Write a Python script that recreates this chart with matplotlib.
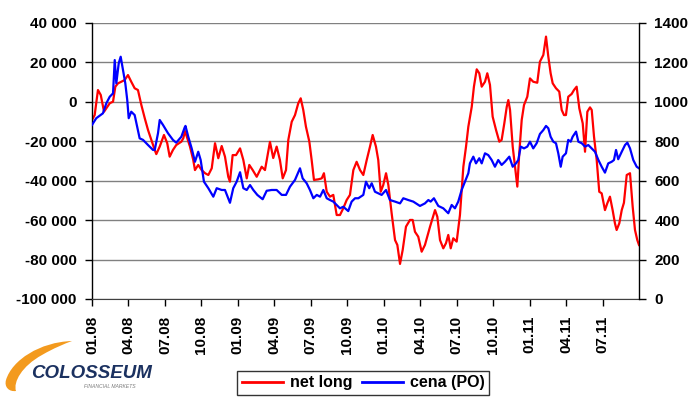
import matplotlib
matplotlib.use("Agg")
import matplotlib.pyplot as plt
from matplotlib.path import Path
from matplotlib.patches import PathPatch

# ---- data -------------------------------------------------------------
tick_labels = ["01.08", "04.08", "07.08", "10.08", "01.09", "04.09", "07.09",
               "10.09", "01.10", "04.10", "07.10", "10.10", "01.11", "04.11", "07.11"]
tick_months = [0, 3, 6, 9, 12, 15, 18, 21, 24, 27, 30, 33, 36, 39, 42]

# months since 01.2008 for net long series
net_long_m = [0.00, 0.22, 0.49, 0.72, 0.99, 1.18, 1.46, 1.73, 1.92, 2.14, 2.41, 2.69,
              2.96, 3.23, 3.51, 3.78, 4.06, 4.34, 4.61, 4.88, 5.16, 5.29, 5.57, 5.92,
              6.19, 6.39, 6.66, 6.93, 7.35, 7.51, 7.65, 8.06, 8.33, 8.47, 8.74, 9.02,
              9.30, 9.57, 9.85, 10.12, 10.39, 10.67, 10.94, 11.21, 11.35, 11.57, 11.85,
              12.18, 12.45, 12.73, 12.94, 13.22, 13.55, 13.96, 14.23, 14.64, 14.91,
              15.19, 15.46, 15.69, 15.96, 16.15, 16.43, 16.70, 16.97, 17.17, 17.38,
              17.60, 17.88, 18.07, 18.26, 18.62, 18.90, 19.08, 19.31, 19.58, 19.85,
              20.13, 20.40, 20.67, 20.95, 21.22, 21.50, 21.77, 22.05, 22.32, 22.60,
              22.87, 23.09, 23.36, 23.55, 23.75, 23.96, 24.19, 24.38, 24.65, 24.93,
              25.12, 25.34, 25.56, 25.83, 26.16, 26.38, 26.57, 26.84, 27.12, 27.39,
              27.81, 28.22, 28.41, 28.63, 28.90, 29.12, 29.31, 29.51, 29.72, 30.00,
              30.27, 30.55, 30.77, 30.96, 31.24, 31.42, 31.65, 31.86, 32.06, 32.33,
              32.52, 32.74, 32.96, 33.24, 33.51, 33.70, 33.92, 34.12, 34.25, 34.39,
              34.61, 34.80, 34.99, 35.15, 35.35, 35.54, 35.81, 36.03, 36.30, 36.63,
              36.85, 37.13, 37.35, 37.54, 37.73, 37.90, 38.17, 38.44, 38.64, 38.83,
              38.99, 39.18, 39.46, 39.65, 39.87, 40.09, 40.37, 40.56, 40.75, 40.97,
              41.11, 41.30, 41.52, 41.73, 41.93, 42.20, 42.39, 42.61, 42.83, 43.02,
              43.16, 43.38, 43.58, 43.76, 43.99, 44.26, 44.48, 44.67, 44.86, 45.00]
net_long = [-9200, -6700, 6000, 3500, -5000, -3300, -700, 100, 7700, 9400, 10200, 11100,
            13600, 10200, 6900, 6000, -1600, -8300, -14300, -19300, -24400, -26500,
            -22700, -16800, -21000, -27800, -24400, -21900, -20200, -18500, -14800,
            -22700, -29500, -34600, -32000, -34600, -36200, -37100, -33700, -21000,
            -28600, -22400, -27800, -38000, -40500, -27000, -27000, -23600, -29500,
            -38800, -32000, -34600, -38000, -32900, -34600, -20300, -28500, -22700,
            -29500, -38800, -34600, -19300, -10100, -6700, -700, 1800, -4100, -12600,
            -20200, -29500, -39600, -39300, -38800, -36200, -45600, -48100, -47200,
            -57400, -57400, -54000, -49800, -47200, -34600, -30400, -34600, -37100,
            -29500, -22700, -16800, -22700, -29500, -45600, -42200, -36200, -42200,
            -56500, -70100, -72600, -82200, -75100, -63300, -59900, -59900, -65900,
            -68400, -76000, -72600, -63300, -54900, -58300, -70100, -74300, -71700,
            -67500, -74300, -69200, -70900, -57400, -32900, -22700, -12600, -2500,
            7700, 16500, 14500, 7700, 10200, 14500, 8600, -7500, -14300, -20200,
            -19300, -10900, -2500, 900, -4100, -22700, -32900, -43000, -26100, -9200,
            -1600, 2600, 11900, 10200, 9700, 20400, 23800, 33100, 22900, 14500, 9400,
            6900, 5200, -4100, -6700, -6700, 2600, 4000, 6000, 7700, -3300, -10900,
            -25300, -5000, -2800, -4100, -17700, -29500, -45600, -46400, -54900,
            -51500, -48100, -54900, -61600, -65000, -61600, -54900, -51200, -37100,
            -36200, -53200, -65000, -70100, -72600]

# months since 01.2008 for price series
cena_m = [0.00, 0.35, 0.90, 1.18, 1.46, 1.73, 1.87, 2.00, 2.20, 2.36, 2.55, 2.74, 2.90,
          3.02, 3.23, 3.51, 3.78, 3.92, 4.20, 4.61, 5.02, 5.16, 5.43, 5.57, 5.84, 6.25,
          6.66, 6.93, 7.35, 7.63, 7.69, 7.92, 8.20, 8.47, 8.74, 8.94, 9.21, 9.57, 9.98,
          10.26, 10.67, 10.94, 11.35, 11.62, 11.90, 12.18, 12.45, 12.73, 13.00, 13.27,
          13.60, 14.04, 14.37, 14.78, 15.19, 15.61, 15.96, 16.29, 16.70, 17.11, 17.33,
          17.66, 17.93, 18.21, 18.49, 18.76, 19.03, 19.31, 19.58, 19.85, 20.13, 20.40,
          20.67, 21.08, 21.36, 21.64, 21.91, 22.32, 22.54, 22.81, 23.01, 23.28, 23.55,
          23.83, 24.19, 24.51, 24.93, 25.34, 25.61, 26.02, 26.43, 26.98, 27.39, 27.67,
          27.86, 28.13, 28.49, 28.90, 29.31, 29.59, 29.86, 30.13, 30.41, 30.68, 30.96,
          31.09, 31.37, 31.59, 31.86, 32.06, 32.33, 32.60, 32.88, 33.15, 33.42, 33.70,
          33.97, 34.33, 34.61, 34.88, 35.07, 35.27, 35.54, 35.81, 36.03, 36.30, 36.58,
          36.85, 37.13, 37.35, 37.54, 37.73, 37.95, 38.17, 38.36, 38.56, 38.72, 38.99,
          39.18, 39.38, 39.54, 39.82, 40.01, 40.29, 40.56, 40.83, 41.11, 41.38, 41.66,
          41.93, 42.20, 42.47, 42.75, 42.94, 43.11, 43.29, 43.58, 43.85, 44.04, 44.26,
          44.53, 44.81, 45.00]
cena = [883, 917, 942, 993, 1026, 1043, 1212, 1094, 1196, 1229, 1162, 1094, 1009, 917,
        950, 933, 857, 815, 807, 781, 756, 756, 841, 908, 883, 841, 807, 793, 823, 871,
        878, 823, 764, 696, 747, 705, 595, 562, 519, 562, 553, 553, 488, 562, 595, 643,
        562, 553, 578, 553, 528, 506, 549, 553, 553, 528, 528, 570, 604, 663, 612, 587,
        553, 511, 528, 519, 553, 511, 502, 494, 477, 460, 468, 446, 494, 511, 511, 528,
        595, 562, 587, 544, 536, 528, 553, 502, 494, 485, 511, 502, 494, 472, 485, 502,
        494, 511, 472, 460, 435, 477, 460, 494, 553, 595, 638, 688, 722, 688, 714, 688,
        739, 730, 705, 671, 705, 680, 696, 722, 671, 688, 705, 773, 764, 773, 798, 764,
        790, 837, 857, 878, 866, 823, 798, 790, 739, 671, 722, 739, 807, 798, 823, 849,
        798, 790, 773, 781, 764, 747, 705, 671, 641, 688, 696, 705, 756, 709, 747, 781,
        793, 764, 705, 671, 663]

left_ticks = [-100000, -80000, -60000, -40000, -20000, 0, 20000, 40000]
right_ticks = [0, 200, 400, 600, 800, 1000, 1200, 1400]
series_names = ["net long", "cena (PO)"]

# ---- figure -----------------------------------------------------------
FONT = ["Liberation Sans", "DejaVu Sans"]
plt.rcParams["font.family"] = FONT

W, H = 700, 401
fig = plt.figure(figsize=(W / 100, H / 100), dpi=100)
fig.patch.set_facecolor("white")

ax = fig.add_axes([92 / W, 1 - 299 / H, 547 / W, 276 / H])
ax2 = ax.twinx()

l1, = ax.plot(net_long_m, net_long, color="#FF0000", lw=1.6, solid_joinstyle="round")
l2, = ax2.plot(cena_m, cena, color="#0000FF", lw=1.6, solid_joinstyle="round")

ax.set_xlim(0, 45)
ax.set_ylim(-100000, 40000)
ax2.set_ylim(0, 1400)

ax.set_yticks(left_ticks)
ax.set_yticklabels([f"{v:,}".replace(",", " ") for v in left_ticks],
                   fontsize=11, fontweight="bold")
ax2.set_yticks(right_ticks)
ax2.set_yticklabels([str(v) for v in right_ticks], fontsize=11, fontweight="bold")

ax.set_xticks(tick_months)
ax.set_xticklabels(tick_labels, rotation=90, fontsize=11, fontweight="bold",
                   va="top", ha="center")

ax.yaxis.grid(True, color="#808080", lw=1.0)
ax.set_axisbelow(True)

for a in (ax, ax2):
    a.spines["top"].set_visible(False)
ax.spines["right"].set_visible(False)
ax2.spines["left"].set_visible(False)
ax2.spines["bottom"].set_visible(False)
ax.spines["left"].set_color("black")
ax.spines["bottom"].set_color("#404040")
ax2.spines["right"].set_color("black")
ax.spines["left"].set_linewidth(1.0)
ax2.spines["right"].set_linewidth(1.0)

ax.tick_params(axis="y", direction="out", length=5, width=1, pad=6, colors="black")
ax.tick_params(axis="x", direction="out", length=5, width=1, pad=7, colors="black")
ax2.tick_params(axis="y", direction="out", length=5, width=1, pad=6, colors="black")

# ---- legend -----------------------------------------------------------
leg = fig.legend([l1, l2], series_names, loc="center",
                 bbox_to_anchor=(363 / W, 1 - 383 / H), ncol=2,
                 frameon=True, fancybox=False, edgecolor="black",
                 handlelength=2.6, handletextpad=0.4, columnspacing=0.6,
                 borderpad=0.3, prop={"weight": "bold", "size": 11.5})
leg.get_frame().set_linewidth(1.0)
for ln in leg.get_lines():
    ln.set_linewidth(2.0)

# ---- logo -------------------------------------------------------------
lax = fig.add_axes([0, 0, 160 / W, 71 / H])
lax.set_xlim(0, 160)
lax.set_ylim(71, 0)
lax.axis("off")
verts = [(72, 11), (40, 12), (12, 30), (6, 50), (4, 57), (9, 62), (16, 61),
         (13, 52), (22, 36), (42, 25), (54, 18), (64, 14), (72, 11)]
codes = [Path.MOVETO, Path.CURVE4, Path.CURVE4, Path.CURVE4,
         Path.CURVE4, Path.CURVE4, Path.CURVE4,
         Path.CURVE4, Path.CURVE4, Path.CURVE4,
         Path.CURVE4, Path.CURVE4, Path.CURVE4]
lax.add_patch(PathPatch(Path(verts, codes), facecolor="#F39A1E", edgecolor="none"))
lax.text(31, 48, "COLOSSEUM", fontsize=13.5, fontweight="bold", fontstyle="italic",
         color="#1B3160", family=["Liberation Sans", "DejaVu Sans"],
         va="baseline", ha="left")
lax.text(84, 56, "FINANCIAL MARKETS", fontsize=3.6, color="#7A7A7A",
         fontstyle="italic", va="center", ha="left")

fig.savefig("out.png", dpi=100, facecolor="white")
